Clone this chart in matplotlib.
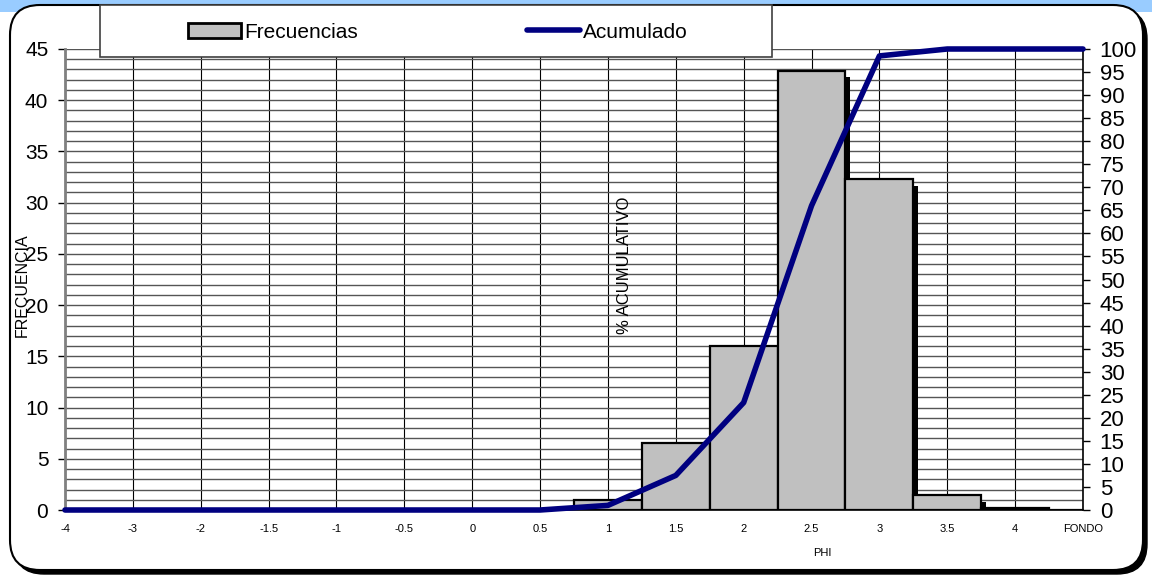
import numpy as np
import matplotlib
matplotlib.use('Agg')
import matplotlib.pyplot as plt
from matplotlib.patches import FancyBboxPatch, Rectangle, Patch
from matplotlib.lines import Line2D
from matplotlib.transforms import IdentityTransform
import matplotlib.patheffects as pe
from matplotlib.ticker import MultipleLocator

plt.rcParams['font.family'] = ['Liberation Sans', 'DejaVu Sans']

# valores
categorias = ['-4', '-3', '-2', '-1.5', '-1', '-0.5', '0', '0.5', '1', '1.5',
              '2', '2.5', '3', '3.5', '4', 'FONDO']
frecuencias = [0, 0, 0, 0, 0, 0, 0, 0, 1.0, 6.5, 16.0, 42.9, 32.3, 1.5, 0.2, 0]
acumulado = [0, 0, 0, 0, 0, 0, 0, 0, 1.0, 7.5, 23.3, 66.0, 98.5, 100, 100, 100]

W, H = 1152, 577
fig = plt.figure(figsize=(W / 100, H / 100), dpi=100)
fig.patch.set_facecolor('white')

# fondo: franja azul arriba y marco redondeado con sombra
px = IdentityTransform()
fig.add_artist(Rectangle((0, H - 12), W, 12, transform=px, facecolor='#99CCFF',
                         edgecolor='none', zorder=0))
fig.add_artist(FancyBboxPatch((14, 3), 1133, 565, boxstyle='round,pad=0,rounding_size=30',
                              transform=px, facecolor='black', edgecolor='black', zorder=0.1))
fig.add_artist(FancyBboxPatch((10, 7), 1133, 565, boxstyle='round,pad=0,rounding_size=30',
                              transform=px, facecolor='white', edgecolor='black', lw=1.5,
                              zorder=0.2))

x0, x1, y0, y1 = 65, 1083, 49, 510
ax = fig.add_axes([x0 / W, (H - y1) / H, (x1 - x0) / W, (y1 - y0) / H])
ax.set_zorder(1)
ax.patch.set_facecolor('white')
x = np.arange(len(categorias))

bars = ax.bar(x, frecuencias, width=1.0, color='#C0C0C0', edgecolor='black', lw=1.6,
              zorder=2)
for b in bars:
    b.set_path_effects([pe.SimplePatchShadow(offset=(3.6, -5), shadow_rgbFace='black',
                                             alpha=1.0), pe.Normal()])

ax.set_xlim(0, len(categorias) - 1)
ax.set_ylim(0, 45)
ax.set_xticks(x)
ax.set_xticklabels(categorias, fontsize=8)
ax.yaxis.set_major_locator(MultipleLocator(5))
ax.yaxis.set_minor_locator(MultipleLocator(1))
ax.tick_params(axis='y', which='major', length=5, width=1, pad=7, labelsize=15,
               direction='out')
ax.tick_params(axis='y', which='minor', length=0)
ax.tick_params(axis='x', length=0, pad=10)
ax.set_axisbelow(True)
ax.grid(True, axis='y', which='both', color='#555555', lw=1.0)
ax.grid(True, axis='x', which='major', color='black', lw=0.8)
ax.spines['top'].set_visible(False)
ax.spines['left'].set_color('#808080')
ax.spines['left'].set_linewidth(2)
ax.spines['right'].set_visible(False)
ax.spines['bottom'].set_linewidth(1.2)

ax.set_ylabel('FRECUENCIA', fontsize=11.5)
ax.yaxis.set_label_coords((30 - x0) / (x1 - x0), (y1 - 285) / (y1 - y0))
ax.set_xlabel('PHI', fontsize=8)
ax.xaxis.set_label_coords((822 - x0) / (x1 - x0), -(548 - y1) / (y1 - y0))

ax2 = ax.twinx()
ax2.plot(x, acumulado, color='#000080', lw=4, solid_capstyle='round', zorder=3,
         clip_on=False)
ax2.set_ylim(0, 100)
ax2.yaxis.set_major_locator(MultipleLocator(5))
ax2.tick_params(axis='y', length=5, width=1, pad=7, labelsize=16, direction='out')
for s in ['top', 'left', 'bottom']:
    ax2.spines[s].set_visible(False)
ax2.spines['right'].set_linewidth(1.2)
ax2.set_ylabel('% ACUMULATIVO', fontsize=12)
ax2.yaxis.set_label_coords((617 - x0) / (x1 - x0), (y1 - 265) / (y1 - y0))
ax2.yaxis.label.set_rotation(90)

# leyenda arriba con su marco
fig.add_artist(Rectangle((100, H - 57), 672, 52, transform=px, facecolor='white',
                         edgecolor='#404040', lw=1.2, zorder=5))
handles = [Patch(facecolor='#C0C0C0', edgecolor='black', lw=2),
           Line2D([0], [0], color='#000080', lw=4, solid_capstyle='round')]
leg = fig.legend(handles, ['Frecuencias', 'Acumulado'], loc='center',
                 bbox_to_anchor=(438 / W, (H - 32) / H), ncol=2, frameon=False,
                 fontsize=15, handlelength=2.55, handleheight=0.72, handletextpad=0.15,
                 columnspacing=8.1, borderpad=0)
leg.set_zorder(6)

fig.savefig('out.png', dpi=100)
